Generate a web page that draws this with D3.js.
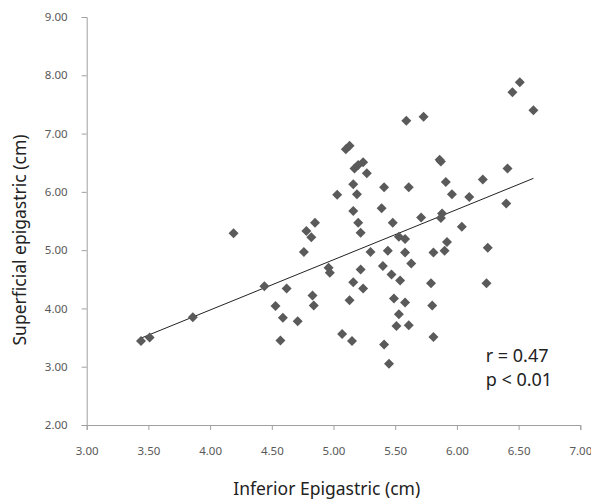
<!DOCTYPE html>
<html>
<head>
<meta charset="utf-8">
<script src="https://cdn.jsdelivr.net/npm/d3@7"></script>
<style>
  body { margin: 0; background: #fff; }
  .tick text { font-family: "Noto Sans", sans-serif; font-size: 11.5px; fill: #595959; }
  .axisText { font-family: "Noto Sans", sans-serif; font-size: 17.5px; fill: #222; }
  .stat { font-family: "Noto Sans", sans-serif; font-size: 18px; fill: #222; }
</style>
</head>
<body>
<div class="chart"></div>
<script>
var svgWidth = 591;
var svgHeight = 501;

var margin = { top: 17, right: 10.7, bottom: 76, left: 86.7 };
var width = svgWidth - margin.left - margin.right;
var height = svgHeight - margin.top - margin.bottom;

// values
var inferior = [3.44, 3.51, 3.86, 4.19, 4.44, 4.53, 4.59, 4.57, 4.62, 4.71,
  4.76, 4.78, 4.82, 4.85, 4.83, 4.84, 4.96, 4.97, 5.03, 5.07,
  5.10, 5.13, 5.13, 5.15, 5.16, 5.16, 5.16, 5.17, 5.20, 5.24,
  5.19, 5.20, 5.22, 5.22, 5.24, 5.27, 5.30, 5.39, 5.41, 5.40,
  5.41, 5.44, 5.45, 5.47, 5.48, 5.49, 5.53, 5.51, 5.53, 5.54,
  5.58, 5.58, 5.58, 5.59, 5.61, 5.61, 5.63, 5.71, 5.73, 5.79,
  5.80, 5.81, 5.81, 5.86, 5.87, 5.88, 5.87, 5.91, 5.92, 5.90,
  5.96, 6.04, 6.10, 6.21, 6.25, 6.24, 6.40, 6.41, 6.45, 6.51, 6.62];
var superficial = [3.44, 3.50, 3.85, 5.29, 4.38, 4.04, 3.84, 3.45, 4.34, 3.78,
  4.97, 5.33, 5.22, 5.47, 4.22, 4.05, 4.70, 4.61, 5.95, 3.56,
  6.73, 6.79, 4.14, 3.44, 4.45, 5.67, 6.13, 6.40, 6.46, 6.51,
  5.96, 5.47, 5.30, 4.67, 4.34, 6.32, 4.97, 5.72, 6.08, 4.73,
  3.38, 4.99, 3.05, 4.58, 5.47, 4.17, 3.90, 3.70, 5.23, 4.48,
  5.19, 4.96, 4.10, 7.22, 3.71, 6.08, 4.77, 5.56, 7.29, 4.43,
  4.05, 4.96, 3.51, 6.55, 6.52, 5.63, 5.55, 6.17, 5.14, 4.99,
  5.96, 5.40, 5.91, 6.21, 5.04, 4.43, 5.80, 6.40, 7.71, 7.88, 7.40];
var xTicks = [3, 3.5, 4, 4.5, 5, 5.5, 6, 6.5, 7];
var yTicks = [2, 3, 4, 5, 6, 7, 8, 9];
var trendSlope = 0.862;
var trendIntercept = 0.525;
var statLines = ['r = 0.47', 'p < 0.01'];

var data = inferior.map(function(x, i) { return { x: x, y: superficial[i] }; });

var svg = d3.select('.chart')
  .append('svg')
  .attr('width', svgWidth)
  .attr('height', svgHeight);

var chartGroup = svg.append('g')
  .attr('transform', `translate(${margin.left}, ${margin.top})`);

var xScale = d3.scaleLinear().domain([3, 7]).range([0, width]);
var yScale = d3.scaleLinear().domain([2, 9]).range([height, 0]);

var bottomAxis = d3.axisBottom(xScale).tickValues(xTicks).tickFormat(d3.format('.2f')).tickSize(5).tickPadding(17);
var leftAxis = d3.axisLeft(yScale).tickValues(yTicks).tickFormat(d3.format('.2f')).tickSize(5).tickPadding(14);

var xg = chartGroup.append('g')
  .attr('transform', `translate(0, ${height})`)
  .call(bottomAxis);
var yg = chartGroup.append('g').call(leftAxis);

[xg, yg].forEach(function(g) {
  g.select('.domain').attr('stroke', '#a0a0a0');
  g.selectAll('.tick line').attr('stroke', '#a0a0a0');
  g.attr('font-family', null).attr('font-size', null);
});

// trend line over the data range
var xr = d3.extent(inferior);
chartGroup.append('line')
  .attr('x1', xScale(xr[0]))
  .attr('y1', yScale(trendIntercept + trendSlope * xr[0]))
  .attr('x2', xScale(xr[1]))
  .attr('y2', yScale(trendIntercept + trendSlope * xr[1]))
  .attr('stroke', '#222')
  .attr('stroke-width', 1);

var diamond = d3.symbol().type(d3.symbolSquare).size(50);
chartGroup.selectAll('path.pt')
  .data(data)
  .enter()
  .append('path')
  .attr('class', 'pt')
  .attr('d', diamond)
  .attr('transform', d => `translate(${xScale(d.x)}, ${yScale(d.y)}) rotate(45)`)
  .attr('fill', '#5a5a5a');

chartGroup.selectAll('text.stat')
  .data(statLines)
  .enter()
  .append('text')
  .attr('class', 'stat')
  .attr('x', 399)
  .attr('y', (d, i) => 345 + i * 24)
  .text(d => d);

chartGroup.append('text')
  .attr('transform', 'rotate(-90)')
  .attr('x', -223)
  .attr('y', -61)
  .attr('text-anchor', 'middle')
  .attr('class', 'axisText')
  .text('Superficial epigastric (cm)');

chartGroup.append('text')
  .attr('x', 240)
  .attr('y', 478)
  .attr('text-anchor', 'middle')
  .attr('class', 'axisText')
  .text('Inferior Epigastric (cm)');
</script>
</body>
</html>
